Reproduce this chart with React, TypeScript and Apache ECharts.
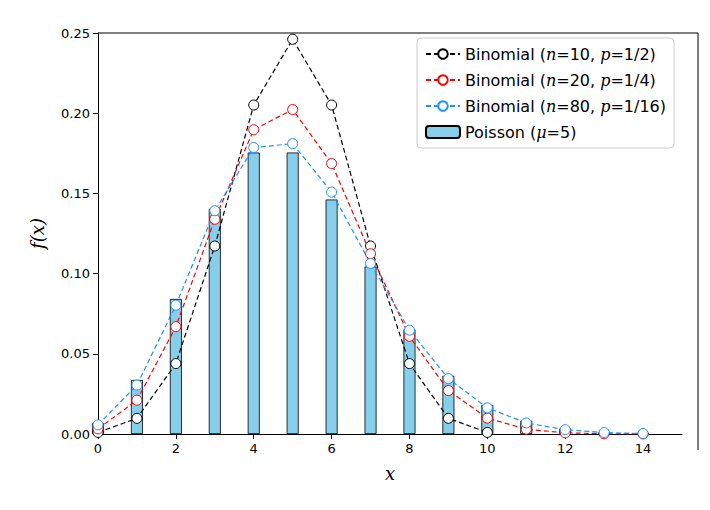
import * as echarts from 'echarts';
import React, { useEffect, useRef } from 'react';

const binom10 = [0.00098, 0.00977, 0.0439, 0.1172, 0.2051, 0.2461, 0.2051, 0.1172, 0.0439, 0.00977, 0.00098];
const binom20 = [0.0032, 0.0211, 0.0669, 0.1339, 0.1897, 0.2023, 0.1686, 0.1124, 0.0609, 0.0271, 0.0099, 0.003, 0.00075, 0.00015, 0.00003];
const binom80 = [0.0057, 0.0305, 0.0803, 0.1392, 0.1786, 0.181, 0.1508, 0.1063, 0.0647, 0.0345, 0.0163, 0.0069, 0.0027, 0.0009, 0.0003];
const poisson = [0.0067, 0.0337, 0.0842, 0.1404, 0.1755, 0.1755, 0.1462, 0.1044, 0.0653, 0.0363, 0.0181, 0.0082, 0.0034, 0.0013, 0.0005];

const names = [
  'Binomial ({i|n}=10, {i|p}=1/2)',
  'Binomial ({i|n}=20, {i|p}=1/4)',
  'Binomial ({i|n}=80, {i|p}=1/16)',
  'Poisson ({i|μ}=5)',
];

const pts = (a: number[]) => a.map((v, i) => [i, v]);

const lineSeries = (name: string, data: number[], color: string) => ({
  name,
  type: 'line',
  data: pts(data),
  symbol: 'circle',
  symbolSize: 10,
  lineStyle: { color, type: [5, 3], width: 1.2 },
  itemStyle: { color: '#fff', borderColor: color, borderWidth: 1 },
  z: 5,
});

export default function App() {
  const ref = useRef<HTMLDivElement>(null);
  useEffect(() => {
    const chart = echarts.init(ref.current!, null, { renderer: 'svg' });
    const font = 'DejaVu Sans';
    chart.setOption({
      animation: false,
      textStyle: { fontFamily: font },
      grid: { left: 90, right: 20, top: 25, bottom: 68 },
      legend: {
        orient: 'vertical',
        right: 28,
        top: 30,
        itemWidth: 34,
        itemHeight: 12,
        itemGap: 10,
        padding: [8, 8],
        backgroundColor: '#fff',
        borderColor: '#ccc',
        borderWidth: 1,
        borderRadius: 4,
        data: names,
        formatter: (n: string) => n,
        textStyle: {
          fontSize: 16,
          color: '#000',
          rich: { i: { fontStyle: 'italic', fontFamily: 'DejaVu Serif', fontSize: 16 } },
        },
      },
      xAxis: {
        type: 'value',
        min: 0,
        max: 15,
        interval: 2,
        name: 'x',
        nameLocation: 'middle',
        nameGap: 30,
        nameTextStyle: { fontSize: 18, fontStyle: 'italic', fontFamily: 'DejaVu Serif', color: '#000' },
        axisLine: { lineStyle: { color: '#000' } },
        axisTick: { lineStyle: { color: '#000' } },
        axisLabel: { color: '#000', fontSize: 13, showMaxLabel: false },
        splitLine: { show: false },
      },
      yAxis: {
        type: 'value',
        min: 0,
        max: 0.25,
        interval: 0.05,
        name: 'f(x)',
        nameLocation: 'middle',
        nameGap: 52,
        nameTextStyle: { fontSize: 18, fontStyle: 'italic', fontFamily: 'DejaVu Serif', color: '#000' },
        axisLine: { show: true, lineStyle: { color: '#000' } },
        axisTick: { show: true, lineStyle: { color: '#000' } },
        axisLabel: { color: '#000', fontSize: 13, formatter: (v: number) => v.toFixed(2) },
        splitLine: { show: false },
      },
      series: [
        lineSeries(names[0], binom10, '#000'),
        lineSeries(names[1], binom20, '#f00'),
        lineSeries(names[2], binom80, '#1e90ff'),
        {
          name: names[3],
          type: 'bar',
          data: pts(poisson),
          barWidth: 12,
          itemStyle: { color: '#87ceeb', borderColor: '#000', borderWidth: 0.8 },
          z: 2,
        },
      ],
    });
    // frame right/top borders
    chart.setOption({
      graphic: [
        { type: 'line', shape: { x1: 90, y1: 25, x2: 690, y2: 25 }, style: { stroke: '#000' } },
        { type: 'line', shape: { x1: 690, y1: 25, x2: 690, y2: 442 }, style: { stroke: '#000' } },
      ],
    });
    return () => chart.dispose();
  }, []);
  return <div ref={ref} style={{ width: 694, height: 494 }} />;
}
